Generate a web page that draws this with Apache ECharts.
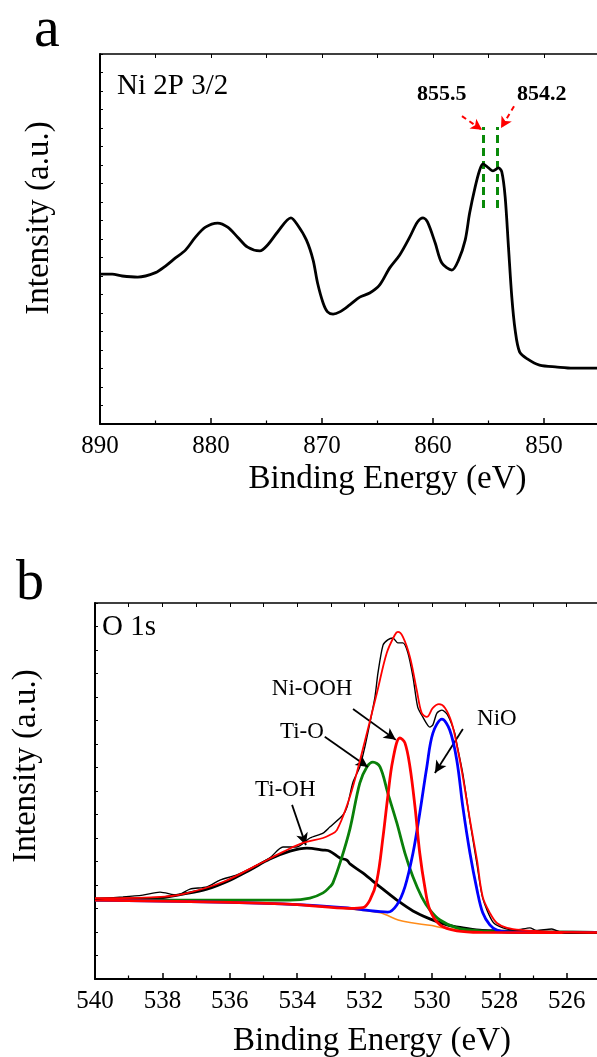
<!DOCTYPE html>
<html>
<head>
<meta charset="utf-8">
<script src="https://cdn.jsdelivr.net/npm/echarts/dist/echarts.min.js"></script>
<style>
html, body { margin: 0; padding: 0; background: #fff; }
#chart { width: 597px; height: 1057px; }
</style>
</head>
<body>
<div id="chart"></div>
<script>
// panel a: Ni 2p 3/2
var niEnergy = [890.0, 888.9, 888.0, 886.6, 885.0, 884.1, 883.2, 882.3, 881.4, 880.5, 879.4, 878.5, 877.6, 876.7, 875.6, 874.9, 874.0, 872.8, 872.2, 871.4, 870.8, 870.4, 869.9, 869.5, 869.0, 868.4, 867.5, 866.6, 865.7, 864.8, 863.9, 863.0, 862.1, 861.4, 860.9, 860.5, 859.8, 859.2, 858.3, 857.7, 857.1, 856.7, 856.2, 855.8, 855.5, 855.0, 854.6, 854.1, 853.8, 853.5, 853.2, 852.9, 852.6, 852.2, 851.5, 850.4, 848.8, 847.4, 845.2, 843.0, 841.0];
var niIntensity = [40.5, 40.5, 40.0, 39.7, 40.9, 42.7, 44.9, 47.0, 50.5, 53.2, 54.3, 53.2, 50.5, 47.8, 46.8, 48.4, 51.9, 55.7, 53.8, 49.7, 44.3, 38.1, 32.7, 30.3, 29.7, 30.3, 32.2, 34.3, 35.4, 37.6, 42.2, 45.7, 50.5, 54.6, 55.7, 54.6, 48.9, 43.5, 41.6, 44.3, 49.7, 57.0, 64.1, 68.6, 70.3, 69.2, 68.4, 69.2, 68.1, 61.4, 47.8, 34.3, 25.4, 19.5, 17.6, 15.9, 15.4, 15.1, 15.1, 15.0, 15.1];
var niPeaks = [855.5, 854.2];

// panel b: O 1s
var rawE = [540.00, 539.17, 538.58, 538.07, 537.57, 537.18, 536.68, 536.29, 535.79, 535.19, 534.81, 534.42, 534.01, 533.62, 533.23, 533.03, 532.64, 532.52, 532.34, 532.14, 531.99, 531.84, 531.69, 531.60, 531.45, 531.31, 531.16, 531.01, 530.86, 530.71, 530.56, 530.42, 530.27, 530.06, 529.97, 529.85, 529.70, 529.53, 529.32, 529.26, 529.08, 528.87, 528.66, 528.49, 528.19, 527.89, 527.50, 527.09, 526.90, 526.44, 526.20, 525.91, 525.10, 524.00];
var rawI = [21.3, 21.8, 22.3, 23.1, 22.3, 23.9, 24.5, 26.3, 27.7, 30.3, 32.2, 35.1, 35.1, 37.5, 38.8, 40.4, 43.6, 45.7, 52.4, 56.4, 61.7, 68.1, 75.0, 81.4, 88.8, 90.2, 90.7, 89.4, 89.4, 86.7, 80.3, 72.3, 69.7, 67.0, 67.6, 70.7, 71.5, 70.2, 65.4, 62.5, 54.5, 42.0, 30.5, 21.5, 15.2, 13.6, 13.0, 13.6, 12.9, 13.3, 12.5, 12.2, 12.2, 12.2];

var envE = [540.00, 538.16, 537.39, 536.20, 535.19, 534.42, 533.83, 533.23, 533.03, 532.82, 532.48, 532.23, 531.93, 531.63, 531.34, 531.10, 531.01, 530.86, 530.65, 530.45, 530.30, 530.15, 529.97, 529.79, 529.61, 529.41, 529.23, 529.08, 528.87, 528.66, 528.49, 528.28, 528.07, 527.77, 527.30, 526.50, 525.10, 524.00];
var envI = [21.5, 21.8, 22.6, 25.8, 30.3, 33.8, 36.2, 37.5, 38.3, 39.6, 47.2, 54.8, 65.4, 76.1, 86.7, 91.5, 92.3, 91.0, 85.6, 76.9, 70.7, 69.7, 72.1, 73.1, 72.1, 68.1, 60.9, 53.7, 42.3, 31.6, 21.8, 17.6, 14.9, 13.6, 13.0, 12.6, 12.3, 12.3];

var tiohE = [540.00, 539.17, 538.16, 537.39, 536.68, 535.99, 535.40, 534.81, 534.21, 533.71, 533.23, 533.03, 532.73, 532.52, 532.43, 532.05, 531.54, 531.04, 530.56, 530.06, 529.55, 529.08, 528.58, 528.07, 527.00, 524.00];
var tiohI = [21.3, 21.3, 21.5, 22.6, 23.9, 26.3, 29.0, 31.9, 34.0, 34.8, 34.3, 34.0, 32.2, 31.6, 30.6, 28.2, 24.5, 21.0, 18.1, 16.0, 14.4, 13.6, 13.0, 12.8, 12.5, 12.4];

var tioE = [540.00, 534.21, 533.62, 533.23, 533.03, 532.94, 532.70, 532.43, 532.14, 531.93, 531.75, 531.54, 531.31, 531.04, 530.80, 530.56, 530.30, 530.06, 529.76, 529.26, 528.58, 527.50, 524.00];
var tioI = [21.0, 21.0, 21.5, 22.9, 24.5, 25.5, 31.6, 40.0, 52.1, 56.4, 57.7, 56.4, 49.5, 41.5, 33.5, 27.1, 21.8, 18.4, 15.7, 13.6, 12.8, 12.5, 12.4];

var nioohE = [540.00, 536.00, 534.00, 532.43, 532.05, 531.84, 531.63, 531.45, 531.31, 531.16, 530.95, 530.80, 530.65, 530.50, 530.36, 530.21, 530.06, 529.76, 529.26, 528.50, 524.00];
var nioohI = [21.0, 20.4, 19.8, 18.8, 19.0, 21.0, 26.3, 37.8, 48.4, 58.2, 64.1, 62.8, 56.4, 45.7, 33.5, 24.5, 18.4, 14.4, 12.8, 12.4, 12.3];

var nioE = [540.00, 536.00, 534.00, 532.50, 532.05, 531.31, 531.04, 530.80, 530.56, 530.36, 530.15, 529.97, 529.70, 529.47, 529.26, 529.08, 528.87, 528.66, 528.49, 528.28, 528.07, 527.77, 524.00];
var nioI = [21.0, 20.4, 19.8, 18.9, 18.4, 17.8, 19.7, 24.5, 33.5, 44.1, 56.4, 65.4, 69.1, 66.2, 58.2, 45.7, 33.5, 23.7, 17.6, 14.4, 13.0, 12.5, 12.3];

var bgE = [540.00, 536.00, 534.00, 532.43, 531.54, 531.00, 530.65, 530.00, 529.67, 528.87, 528.28, 526.00, 524.00];
var bgI = [21.0, 20.4, 19.8, 18.6, 17.6, 15.7, 15.0, 14.2, 13.6, 12.8, 12.5, 12.2, 12.2];

var oLabels = ['Ni-OOH', 'Ti-O', 'Ti-OH', 'NiO'];

function pairs(xs, ys) {
	return xs.map(function (x, i) { return [x, ys[i]]; });
}

var serif = "'Liberation Serif', 'Times New Roman', serif";

function bottomAxis(grid, min, max, step, gap, pad) {
	return {
		type: 'value', gridIndex: grid, position: 'bottom', inverse: true,
		min: min, max: max, interval: step,
		axisLine: { lineStyle: { color: '#000', width: 2 } },
		axisTick: { inside: true, length: 6, lineStyle: { color: '#000', width: 1.5 } },
		minorTick: { show: true, splitNumber: 2, length: 3.5, lineStyle: { color: '#000', width: 1.2 } },
		axisLabel: { color: '#000', fontFamily: serif, fontSize: 25, margin: 10 },
		splitLine: { show: false },
		name: 'Binding Energy (eV)', nameLocation: 'middle', nameGap: gap,
		nameTextStyle: { color: '#000', fontFamily: serif, fontSize: 33, padding: pad }
	};
}

function topAxis(grid, min, max, step) {
	return {
		type: 'value', gridIndex: grid, position: 'top', inverse: true,
		min: min, max: max, interval: step,
		axisLine: { lineStyle: { color: '#000', width: 1.5 } },
		axisTick: { inside: true, length: 4, lineStyle: { color: '#000', width: 1 } },
		axisLabel: { show: false },
		splitLine: { show: false }
	};
}

function leftAxis(grid, step, gap, pad) {
	return {
		type: 'value', gridIndex: grid, min: 0, max: 100, interval: step,
		axisLine: { show: true, lineStyle: { color: '#000', width: 2 } },
		axisTick: { show: true, inside: true, length: 3, lineStyle: { color: '#000', width: 1 } },
		axisLabel: { show: false },
		splitLine: { show: false },
		name: 'Intensity (a.u.)', nameLocation: 'middle', nameGap: gap,
		nameTextStyle: { color: '#000', fontFamily: serif, fontSize: 33, padding: pad }
	};
}

function curve(name, xi, yi, e, v, color, width, z) {
	return {
		name: name, type: 'line', xAxisIndex: xi, yAxisIndex: yi,
		data: pairs(e, v), showSymbol: false, smooth: 0.35, z: z,
		lineStyle: { color: color, width: width }
	};
}

function arrow(a, b) {
	return [{ coord: a }, { coord: b }];
}

function note(text, e, v, bold, size) {
	return {
		coord: [e, v], value: text, symbol: 'circle', symbolSize: 0,
		label: { show: true, formatter: text, position: 'right', distance: 0,
			color: '#000', fontFamily: serif, fontSize: size, fontWeight: bold ? 'bold' : 'normal' }
	};
}

var chart = echarts.init(document.getElementById('chart'));

var niSeries = curve('Ni 2p', 0, 0, niEnergy, niIntensity, '#000', 2.8, 5);
niSeries.smooth = 0.3;
niSeries.markLine = {
	silent: true, symbol: 'none', label: { show: false },
	lineStyle: { color: '#0a8a0a', type: [8, 5], width: 3 },
	data: niPeaks.map(function (p) { return arrow([p, 58.4], [p, 80.3]); })
};
niSeries.markPoint = {
	silent: true,
	data: [note(niPeaks[0].toFixed(1), 861.44, 89.0, true, 22), note(niPeaks[1].toFixed(1), 852.43, 89.0, true, 22)]
};

var niArrows = {
	name: 'arrows a', type: 'line', xAxisIndex: 0, yAxisIndex: 0, data: [], z: 6,
	markLine: {
		silent: true, symbol: ['none', 'arrow'], symbolSize: [9, 11], label: { show: false },
		lineStyle: { color: '#ff0000', type: [5, 4], width: 2 },
		data: [arrow([857.39, 83.2], [855.59, 79.5]), arrow([852.70, 85.9], [853.87, 80.0])]
	}
};

var rawSeries = curve('raw', 2, 1, rawE, rawI, '#000', 1.4, 8);
rawSeries.smooth = 0.25;
var envSeries = curve('envelope', 2, 1, envE, envI, '#ff0000', 1.8, 9);
envSeries.markLine = {
	silent: true, symbol: ['none', 'arrow'], symbolSize: [9, 12], label: { show: false },
	lineStyle: { color: '#000', type: 'solid', width: 1.8 },
	data: [
		arrow([532.34, 71.8], [531.07, 63.6]),
		arrow([533.18, 64.4], [531.90, 56.4]),
		arrow([534.15, 46.3], [533.74, 35.6]),
		arrow([529.08, 66.5], [529.91, 54.8])
	]
};
envSeries.markPoint = {
	silent: true,
	data: [
		note(oLabels[0], 534.75, 77.1, false, 23),
		note(oLabels[1], 534.51, 65.7, false, 23),
		note(oLabels[2], 535.25, 50.3, false, 23),
		note(oLabels[3], 528.66, 69.1, false, 23)
	]
};

var option = {
	animation: false,
	backgroundColor: '#fff',
	title: [
		{ text: 'a', left: 34, top: 2, padding: 0, textStyle: { fontFamily: serif, fontSize: 58, fontWeight: 'normal', color: '#000' } },
		{ text: 'b', left: 16, top: 556, padding: 0, textStyle: { fontFamily: serif, fontSize: 56, fontWeight: 'normal', color: '#000' } },
		{ text: 'Ni 2P 3/2', left: 117, top: 72, padding: 0, textStyle: { fontFamily: serif, fontSize: 29, fontWeight: 'normal', color: '#000' } },
		{ text: 'O 1s', left: 102, top: 613, padding: 0, textStyle: { fontFamily: serif, fontSize: 29, fontWeight: 'normal', color: '#000' } }
	],
	grid: [
		{ left: 100, top: 54, width: 555, height: 370, outerBoundsMode: 'none' },
		{ left: 95, top: 603, width: 539, height: 376, outerBoundsMode: 'none' }
	],
	xAxis: [
		bottomAxis(0, 840, 890, 10, 39, [0, 0, 0, 20]),
		topAxis(0, 840, 890, 5),
		bottomAxis(1, 524, 540, 2, 46, [0, 0, 0, 15]),
		topAxis(1, 524, 540, 1)
	],
	yAxis: [
		leftAxis(0, 5, 44, [0, 0, 0, 42]),
		leftAxis(1, 6.25, 52, [0, 0, 0, 50])
	],
	series: [
		niSeries,
		niArrows,
		curve('background', 2, 1, bgE, bgI, '#ff8c1a', 1.5, 2),
		curve('Ti-OH', 2, 1, tiohE, tiohI, '#000', 2.8, 3),
		curve('Ti-O', 2, 1, tioE, tioI, '#0a800a', 2.8, 4),
		curve('NiO', 2, 1, nioE, nioI, '#0000ff', 2.8, 5),
		curve('Ni-OOH', 2, 1, nioohE, nioohI, '#ff0000', 2.8, 6),
		rawSeries,
		envSeries
	]
};

chart.setOption(option);
</script>
</body>
</html>
